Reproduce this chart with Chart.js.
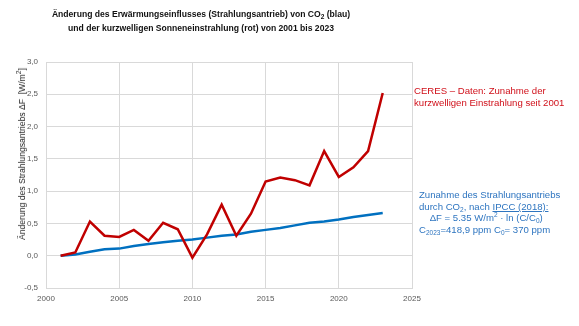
<!DOCTYPE html>
<html>
<head>
<meta charset="utf-8">
<script src="https://cdn.jsdelivr.net/npm/chart.js@4/dist/chart.umd.min.js"></script>
<style>
    html, body { margin: 0; padding: 0; background: #fff; }
    #wrap { position: relative; width: 579px; height: 326px; font-family: "Liberation Sans", Arial, sans-serif; }
    #chart { position: absolute; left: 0; top: 0; }
    .title { position: absolute; left: 0; width: 402px; text-align: center; font-weight: bold; font-size: 8.6px; color: #111; }
    .ytitle { position: absolute; left: 22px; top: 154px; transform: translate(-50%, -50%) rotate(-90deg); white-space: nowrap; font-size: 8.6px; color: #222; }
    .note { position: absolute; font-size: 9.6px; line-height: 12px; white-space: nowrap; }
    .red { color: #d0101a; left: 414px; top: 85px; }
    .blue { color: #2e75c0; left: 419px; top: 189px; line-height: 11.7px; }
    .blue u { text-decoration: underline; }
    sub { font-size: 6.5px; vertical-align: -2px; line-height: 0; }
    sup { font-size: 6.5px; vertical-align: 4px; line-height: 0; }
</style>
</head>
<body>
<div id="wrap">
    <canvas id="chart" width="579" height="326"></canvas>
    <div class="title" style="top: 9px;">Änderung des Erwärmungseinflusses (Strahlungsantrieb) von CO<sub>2</sub> (blau)</div>
    <div class="title" style="top: 23px;">und der kurzwelligen Sonneneinstrahlung (rot) von 2001 bis 2023</div>
    <div class="ytitle">Änderung des Strahlungsantriebs ΔF&nbsp; [W/m<sup>2</sup>]</div>
    <div class="note red">CERES – Daten: Zunahme der<br>kurzwelligen Einstrahlung seit 2001</div>
    <div class="note blue">Zunahme des Strahlungsantriebs<br>durch CO<sub>2</sub>, nach <u>IPCC (2018):</u><br>&nbsp;&nbsp;&nbsp;&nbsp;ΔF = 5.35 W/m<sup>2</sup> · ln (C/C<sub>0</sub>)<br>C<sub>2023</sub>=418,9 ppm C<sub>0</sub>= 370 ppm</div>
</div>
<script>
// Jahre und Werte (W/m²)
const years = [2001, 2002, 2003, 2004, 2005, 2006, 2007, 2008, 2009, 2010, 2011, 2012,
               2013, 2014, 2015, 2016, 2017, 2018, 2019, 2020, 2021, 2022, 2023];
const ceresShortwave = [0.00, 0.05, 0.53, 0.31, 0.29, 0.40, 0.23, 0.51, 0.41, -0.03, 0.33, 0.79,
                        0.31, 0.65, 1.15, 1.21, 1.17, 1.09, 1.62, 1.22, 1.37, 1.62, 2.52];
const co2Forcing = [0.00, 0.02, 0.06, 0.10, 0.11, 0.15, 0.18, 0.21, 0.23, 0.25, 0.28, 0.31,
                    0.33, 0.37, 0.40, 0.43, 0.47, 0.51, 0.53, 0.56, 0.60, 0.63, 0.66];
const xTicks = [2000, 2005, 2010, 2015, 2020, 2025];
const yTicks = [-0.5, 0, 0.5, 1, 1.5, 2, 2.5, 3];

const toPoints = vals => vals.map((v, i) => ({ x: years[i], y: v }));

const gridColor = '#d9d9d9';
const tickFont = { family: 'Liberation Sans, Arial, sans-serif', size: 8 };

new Chart(document.getElementById('chart'), {
    type: 'line',
    data: {
        datasets: [
            {
                label: 'CERES',
                data: toPoints(ceresShortwave),
                borderColor: '#c00000',
                borderWidth: 2.5,
                pointRadius: 0,
                tension: 0
            },
            {
                label: 'CO2',
                data: toPoints(co2Forcing),
                borderColor: '#0070c0',
                borderWidth: 2.5,
                pointRadius: 0,
                tension: 0
            }
        ]
    },
    options: {
        responsive: false,
        animation: false,
        layout: { padding: { left: 0, top: 62, right: 167, bottom: 0 } },
        plugins: { legend: { display: false }, tooltip: { enabled: false } },
        scales: {
            x: {
                type: 'linear',
                min: 2000,
                max: 2025,
                afterBuildTicks: axis => { axis.ticks = xTicks.map(v => ({ value: v })); },
                afterFit: axis => { axis.height = 38; },
                grid: { color: gridColor, drawTicks: false },
                border: { color: gridColor },
                ticks: { color: '#595959', font: tickFont, padding: 6, maxRotation: 0, callback: v => String(v) }
            },
            y: {
                min: -0.5,
                max: 3,
                afterBuildTicks: axis => { axis.ticks = yTicks.map(v => ({ value: v })); },
                afterFit: axis => { axis.width = 46; },
                grid: { color: gridColor, drawTicks: false },
                border: { color: gridColor },
                ticks: {
                    color: '#595959',
                    font: tickFont,
                    padding: 8,
                    callback: v => v.toFixed(1).replace('.', ',')
                }
            }
        }
    }
});
</script>
</body>
</html>
